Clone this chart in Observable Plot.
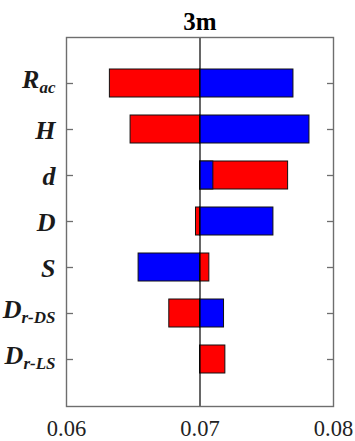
<!DOCTYPE html>
<html>
<head>
<meta charset="utf-8">
<script src="https://cdn.jsdelivr.net/npm/d3@7"></script>
<script src="https://cdn.jsdelivr.net/npm/@observablehq/plot@0.6"></script>
<style>
  html, body { margin: 0; padding: 0; background: #fff; }
  #chart svg, #chart svg text, #chart svg tspan {
    font-family: "Liberation Serif", "Times New Roman", Tinos, Times, serif !important;
  }
</style>
</head>
<body>
<div id="chart"></div>
<script>
const title = "3m";
const categories = ["Rac", "H", "d", "D", "S", "Dr-DS", "Dr-LS"];
const labelMain = ["R", "H", "d", "D", "S", "D", "D"];
const labelSub = ["ac", "", "", "", "", "r-DS", "r-LS"];
const redValues = [0.06325, 0.0648, 0.0766, 0.0697, 0.0707, 0.0677, 0.0719];
const blueValues = [0.0770, 0.0782, 0.0710, 0.0755, 0.0654, 0.0718, 0.0700];
const baseValue = 0.07;
const xTicks = [0.06, 0.07, 0.08];

const rows = categories.map((c, i) => ({cat: c, red: redValues[i], blue: blueValues[i]}));

const chart = Plot.plot({
  width: 355,
  height: 441,
  marginLeft: 66,
  marginRight: 22,
  marginTop: 37,
  marginBottom: 35,
  style: {background: "#fff", color: "#000", overflow: "visible"},
  x: {domain: [0.06, 0.08]},
  y: {domain: categories, paddingInner: 0.39, paddingOuter: 0.7},
  marks: [
    Plot.barX(rows, {y: "cat", x1: baseValue, x2: "red", fill: "#ff0000", stroke: "#111", strokeWidth: 1}),
    Plot.barX(rows, {y: "cat", x1: baseValue, x2: "blue", fill: "#0000ff", stroke: "#111", strokeWidth: 1}),
    Plot.ruleX([baseValue], {stroke: "#000", strokeWidth: 1.2}),
    Plot.frame({stroke: "#6e6e6e", strokeWidth: 1.4}),
    Plot.axisY({anchor: "left", tickSize: -7, tickFormat: () => "", label: null, stroke: "#6e6e6e", strokeWidth: 1.3}),
    Plot.axisY({anchor: "right", tickSize: -7, tickFormat: () => "", label: null, stroke: "#6e6e6e", strokeWidth: 1.3}),
    Plot.axisY({anchor: "left", tickSize: 0, tickPadding: 11, label: null, fontSize: 26, fontWeight: "bold", fontStyle: "italic", fill: "#1a1a1a"}),
    Plot.axisX({anchor: "bottom", ticks: xTicks, tickSize: 0, tickPadding: 14, label: null, tickFormat: d3.format(".2f"), fontSize: 22.5, fill: "#222"}),
    Plot.text([title], {frameAnchor: "top", dy: -8, lineAnchor: "bottom", fontSize: 25, fontWeight: "bold", fill: "#000"})
  ]
});

// Replace y tick labels with main letter + subscript
d3.select(chart).selectAll('g[aria-label="y-axis tick label"] text').each(function () {
  const key = this.textContent;
  const i = categories.indexOf(key);
  if (i < 0) return;
  const t = d3.select(this);
  t.text(null);
  const hasSub = labelSub[i] !== "";
  t.append("tspan").attr("dy", hasSub ? -4 : 1).text(labelMain[i]);
  if (hasSub) {
    t.append("tspan").attr("dy", 5).attr("font-size", 17).text(labelSub[i]);
  }
});

document.getElementById("chart").appendChild(chart);
</script>
</body>
</html>
